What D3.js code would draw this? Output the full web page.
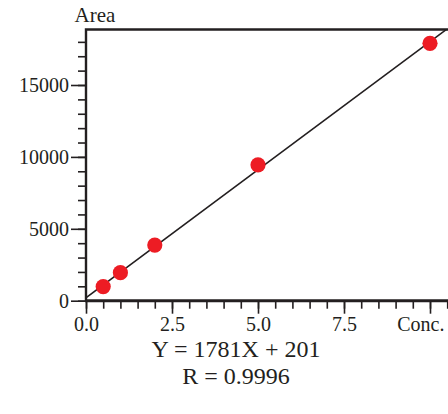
<!DOCTYPE html>
<html>
<head>
<meta charset="utf-8">
<script src="https://cdn.jsdelivr.net/npm/d3@7"></script>
<style>
  body { margin: 0; background: #fff; }
  svg { display: block; }
  text { font-family: "Liberation Serif", "Times New Roman", serif; fill: #231f20; }
</style>
</head>
<body>
<svg width="448" height="414"></svg>
<script>
// data
var conc = [0.5, 1, 2, 5, 10];
var area = [980, 1950, 3870, 9450, 17900];
var xTicks = [0, 2.5, 5, 7.5, 10];
var xTickLabels = ["0.0", "2.5", "5.0", "7.5", "Conc."];
var yTicks = [0, 5000, 10000, 15000];
var slope = 1781, intercept = 201, rValue = "0.9996";

var svg = d3.select("svg");
// plot box (note: "top" is taken by window.top)
var pLeft = 86, pRight = 448, pTop = 29.5, pBottom = 300.7;
var ink = "#231f20";

var x = d3.scaleLinear().domain([0, 10]).range([pLeft, 430]);
var y = d3.scaleLinear().domain([0, 15000]).range([pBottom, 85]);
var xMax = x.invert(pRight), yMax = y.invert(pTop);

// minor ticks (outside the frame)
var xMinor = d3.range(0, xMax, 0.5);
var yMinor = d3.range(0, yMax, 1000);

var gx = svg.append("g").attr("transform", "translate(0," + pBottom + ")");
gx.call(d3.axisBottom(x).tickValues(xMinor).tickSize(8).tickFormat(""));
gx.append("g").call(d3.axisBottom(x).tickValues(xTicks).tickSize(13)
  .tickFormat(function(d, i) { return xTickLabels[i]; }));
gx.selectAll(".domain").remove();
gx.selectAll("line").attr("stroke", ink).attr("stroke-width", 1.6);
gx.selectAll("text").attr("font-size", 20).attr("fill", ink)
  .attr("font-family", "Liberation Serif").attr("dy", "0.95em").attr("y", 11);
// last label sits left of its tick so it fits
gx.selectAll("text").filter(function(d) { return d === 10; })
  .attr("text-anchor", "end").attr("x", 14);

var gy = svg.append("g").attr("transform", "translate(" + pLeft + ",0)");
gy.call(d3.axisLeft(y).tickValues(yMinor).tickSize(8).tickFormat(""));
gy.append("g").call(d3.axisLeft(y).tickValues(yTicks).tickSize(15).tickFormat(d3.format("d")));
gy.selectAll(".domain").remove();
gy.selectAll("line").attr("stroke", ink).attr("stroke-width", 1.6);
gy.selectAll("text").attr("font-size", 20).attr("fill", ink)
  .attr("font-family", "Liberation Serif").attr("x", -17);

// frame
svg.append("path")
  .attr("d", "M" + pLeft + "," + pBottom + "V" + pTop + "H" + pRight)
  .attr("fill", "none").attr("stroke", ink).attr("stroke-width", 2.4);
svg.append("line")
  .attr("x1", pLeft - 1).attr("x2", pRight).attr("y1", pBottom).attr("y2", pBottom)
  .attr("stroke", ink).attr("stroke-width", 3);

// regression line, clipped to plot area
svg.append("clipPath").attr("id", "plot")
  .append("rect").attr("x", pLeft).attr("y", pTop)
  .attr("width", pRight - pLeft).attr("height", pBottom - pTop);
var line = d3.line()
  .x(function(d) { return x(d); })
  .y(function(d) { return y(slope * d + intercept); });
svg.append("path")
  .datum([-0.12, xMax])
  .attr("d", line)
  .attr("clip-path", "url(#plot)")
  .attr("fill", "none").attr("stroke", ink).attr("stroke-width", 1.6);

// points
svg.selectAll("circle.pt")
  .data(conc)
  .enter().append("circle")
  .attr("class", "pt")
  .attr("cx", function(d) { return x(d); })
  .attr("cy", function(d, i) { return y(area[i]); })
  .attr("r", 7.6)
  .attr("fill", "#ed1c24");

// labels
svg.append("text").attr("x", 95).attr("y", 22).attr("text-anchor", "middle")
  .attr("font-size", 21).text("Area");
svg.append("text").attr("x", 236).attr("y", 357).attr("text-anchor", "middle")
  .attr("font-size", 24).text("Y = " + slope + "X + " + intercept);
svg.append("text").attr("x", 236).attr("y", 384).attr("text-anchor", "middle")
  .attr("font-size", 24).text("R = " + rValue);
</script>
</body>
</html>
